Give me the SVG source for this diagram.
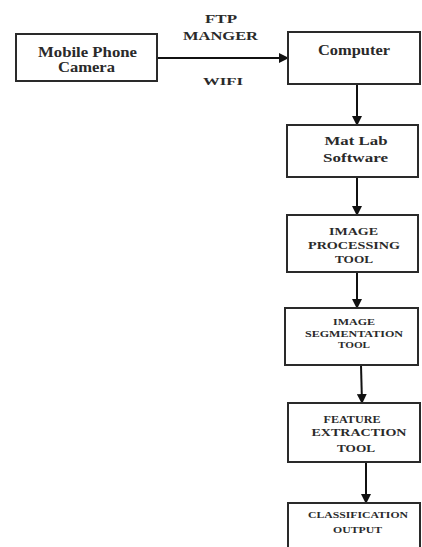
<svg xmlns="http://www.w3.org/2000/svg" width="422" height="547" viewBox="0 0 422 547">
<defs>
<style>
.box{fill:#fff;stroke:#2a2a2a;stroke-width:2}
.t{font-family:"Liberation Serif","DejaVu Serif","Times New Roman",serif;font-weight:bold;fill:#2a2a2a;text-anchor:middle}
.edge{stroke:#111;stroke-width:2;fill:none;marker-end:url(#ah)}
</style>
<marker id="ah" markerWidth="10" markerHeight="10" refX="9" refY="5" orient="auto" markerUnits="userSpaceOnUse">
<path d="M0,0 L10,5 L0,10 Z" fill="#111"/>
</marker>
</defs>
<rect width="422" height="547" fill="#fff"/>
<g id="connectors">
<line class="edge" x1="158" y1="58" x2="288" y2="58"/>
<line class="edge" x1="357" y1="85" x2="357" y2="125"/>
<line class="edge" x1="357" y1="177" x2="357" y2="215"/>
<line class="edge" x1="357" y1="272" x2="357" y2="308"/>
<line class="edge" x1="361" y1="365" x2="362" y2="403"/>
<line class="edge" x1="366" y1="462" x2="366" y2="503"/>
<text class="t" x="221" y="23" font-size="13" textLength="32" lengthAdjust="spacingAndGlyphs">FTP</text>
<text class="t" x="220.5" y="40" font-size="13" textLength="75" lengthAdjust="spacingAndGlyphs">MANGER</text>
<text class="t" x="223" y="85" font-size="10" textLength="40" lengthAdjust="spacingAndGlyphs">WIFI</text>
</g>
<g id="mobile">
<rect class="box" x="16" y="34" width="141" height="47"/>
<text class="t" x="87.5" y="57" font-size="14" textLength="99" lengthAdjust="spacingAndGlyphs">Mobile Phone</text>
<text class="t" x="86.5" y="72" font-size="14" textLength="57" lengthAdjust="spacingAndGlyphs">Camera</text>
</g>
<g id="computer">
<rect class="box" x="288" y="32" width="132" height="52"/>
<text class="t" x="354" y="55" font-size="14" textLength="72" lengthAdjust="spacingAndGlyphs">Computer</text>
</g>
<g id="matlab">
<rect class="box" x="287" y="125" width="131" height="52"/>
<text class="t" x="356" y="145" font-size="13" textLength="63" lengthAdjust="spacingAndGlyphs">Mat Lab</text>
<text class="t" x="355.5" y="162" font-size="13" textLength="65" lengthAdjust="spacingAndGlyphs">Software</text>
</g>
<g id="imageproc">
<rect class="box" x="287" y="215" width="131" height="57"/>
<text class="t" x="353.5" y="235" font-size="10" textLength="49" lengthAdjust="spacingAndGlyphs">IMAGE</text>
<text class="t" x="354" y="249" font-size="10" textLength="92" lengthAdjust="spacingAndGlyphs">PROCESSING</text>
<text class="t" x="354" y="263" font-size="10" textLength="38" lengthAdjust="spacingAndGlyphs">TOOL</text>
</g>
<g id="segmentation">
<rect class="box" x="285" y="308" width="133" height="57"/>
<text class="t" x="354" y="325" font-size="8.5" textLength="42" lengthAdjust="spacingAndGlyphs">IMAGE</text>
<text class="t" x="354" y="337" font-size="8.5" textLength="98" lengthAdjust="spacingAndGlyphs">SEGMENTATION</text>
<text class="t" x="354" y="348" font-size="8.5" textLength="32" lengthAdjust="spacingAndGlyphs">TOOL</text>
</g>
<g id="feature">
<rect class="box" x="288" y="403" width="132" height="59"/>
<text class="t" x="352" y="423" font-size="10" textLength="57" lengthAdjust="spacingAndGlyphs">FEATURE</text>
<text class="t" x="359" y="436" font-size="10" textLength="95" lengthAdjust="spacingAndGlyphs">EXTRACTION</text>
<text class="t" x="356" y="452" font-size="10" textLength="38" lengthAdjust="spacingAndGlyphs">TOOL</text>
</g>
<g id="classification">
<rect class="box" x="288" y="503" width="132" height="60"/>
<text class="t" x="358" y="518" font-size="9" textLength="100" lengthAdjust="spacingAndGlyphs">CLASSIFICATION</text>
<text class="t" x="357.5" y="533" font-size="9" textLength="49" lengthAdjust="spacingAndGlyphs">OUTPUT</text>
</g>
</svg>
